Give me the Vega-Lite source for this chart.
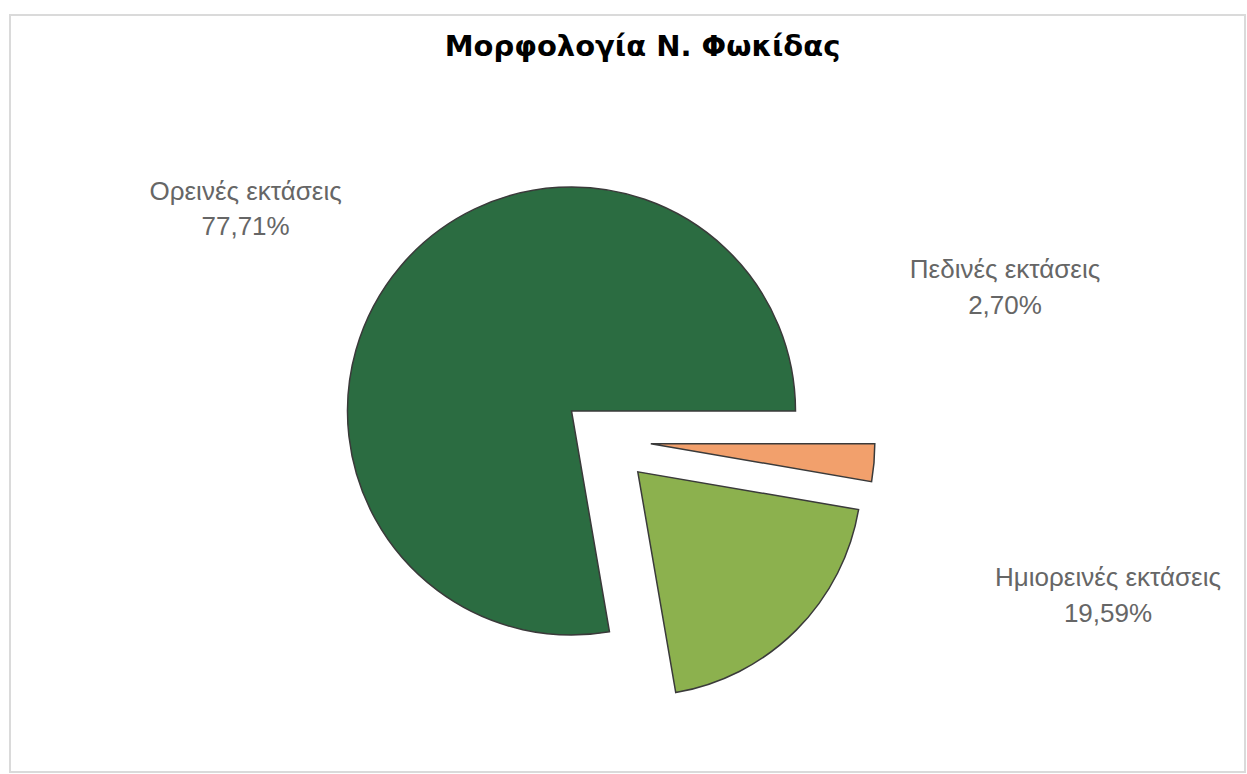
{
  "$schema": "https://vega.github.io/schema/vega-lite/v6.json",
  "width": 1235,
  "height": 757,
  "autosize": {"type": "none"},
  "padding": {"left": 10, "top": 15, "right": 2, "bottom": 2},
  "background": "white",
  "view": {"stroke": "#dadada", "strokeWidth": 2},
  "config": {"view": {"stroke": "#dadada", "strokeWidth": 2}},
  "title": {
    "text": "Μορφολογία Ν. Φωκίδας",
    "font": "DejaVu Sans",
    "fontSize": 29,
    "fontWeight": "bold",
    "color": "#000000",
    "anchor": "middle",
    "frame": "group",
    "baseline": "alphabetic",
    "offset": -70,
    "dx": 15
  },
  "data": {
    "values": [
      {"cat": "Ορεινές εκτάσεις", "value": 77.71, "label": "Ορεινές εκτάσεις\n77,71%"},
      {"cat": "Πεδινές εκτάσεις", "value": 2.70, "label": "Πεδινές εκτάσεις\n2,70%"},
      {"cat": "Ημιορεινές εκτάσεις", "value": 19.59, "label": "Ημιορεινές εκτάσεις\n19,59%"}
    ]
  },
  "encoding": {
    "theta": {"field": "value", "type": "quantitative", "stack": true, "scale": {"range": [1.5707963, 7.8539816]}},
    "order": {"field": "value", "type": "quantitative", "sort": "ascending"}
  },
  "layer": [
    {
      "mark": {"type": "arc", "radius": 224, "xOffset": -56, "yOffset": 17.5, "stroke": "#3a3a3a", "strokeWidth": 1.5},
      "encoding": {
        "color": {"field": "cat", "type": "nominal", "legend": null, "scale": {"domain": ["Ορεινές εκτάσεις", "Πεδινές εκτάσεις", "Ημιορεινές εκτάσεις"], "range": ["#2b6c41", "#f2a06c", "#8cb14e"]}},
        "opacity": {"condition": {"test": "datum.cat === 'Ορεινές εκτάσεις'", "value": 1}, "value": 0}
      }
    },
    {
      "mark": {"type": "arc", "radius": 224, "xOffset": 23.3, "yOffset": 50.3, "stroke": "#3a3a3a", "strokeWidth": 1.5},
      "encoding": {
        "color": {"field": "cat", "type": "nominal", "legend": null, "scale": {"domain": ["Ορεινές εκτάσεις", "Πεδινές εκτάσεις", "Ημιορεινές εκτάσεις"], "range": ["#2b6c41", "#f2a06c", "#8cb14e"]}},
        "opacity": {"condition": {"test": "datum.cat === 'Πεδινές εκτάσεις'", "value": 1}, "value": 0}
      }
    },
    {
      "mark": {"type": "arc", "radius": 224, "xOffset": 10.3, "yOffset": 78.3, "stroke": "#3a3a3a", "strokeWidth": 1.5},
      "encoding": {
        "color": {"field": "cat", "type": "nominal", "legend": null, "scale": {"domain": ["Ορεινές εκτάσεις", "Πεδινές εκτάσεις", "Ημιορεινές εκτάσεις"], "range": ["#2b6c41", "#f2a06c", "#8cb14e"]}},
        "opacity": {"condition": {"test": "datum.cat === 'Ημιορεινές εκτάσεις'", "value": 1}, "value": 0}
      }
    },
    {
      "mark": {"type": "text", "radius": 300, "dx": -152.5, "dy": -8, "font": "Liberation Sans", "fontSize": 26, "fill": "#666666", "lineBreak": "\n", "lineHeight": 35, "align": "center", "baseline": "middle"},
      "encoding": {
        "text": {"field": "label", "type": "nominal"},
        "opacity": {"condition": {"test": "datum.cat === 'Ορεινές εκτάσεις'", "value": 1}, "value": 0}
      }
    },
    {
      "mark": {"type": "text", "radius": 300, "dx": 78.6, "dy": -148.5, "font": "Liberation Sans", "fontSize": 26, "fill": "#666666", "lineBreak": "\n", "lineHeight": 36, "align": "center", "baseline": "middle"},
      "encoding": {
        "text": {"field": "label", "type": "nominal"},
        "opacity": {"condition": {"test": "datum.cat === 'Πεδινές εκτάσεις'", "value": 1}, "value": 0}
      }
    },
    {
      "mark": {"type": "text", "radius": 300, "dx": 268.3, "dy": -28, "font": "Liberation Sans", "fontSize": 26, "fill": "#666666", "lineBreak": "\n", "lineHeight": 36, "align": "center", "baseline": "middle"},
      "encoding": {
        "text": {"field": "label", "type": "nominal"},
        "opacity": {"condition": {"test": "datum.cat === 'Ημιορεινές εκτάσεις'", "value": 1}, "value": 0}
      }
    }
  ]
}
